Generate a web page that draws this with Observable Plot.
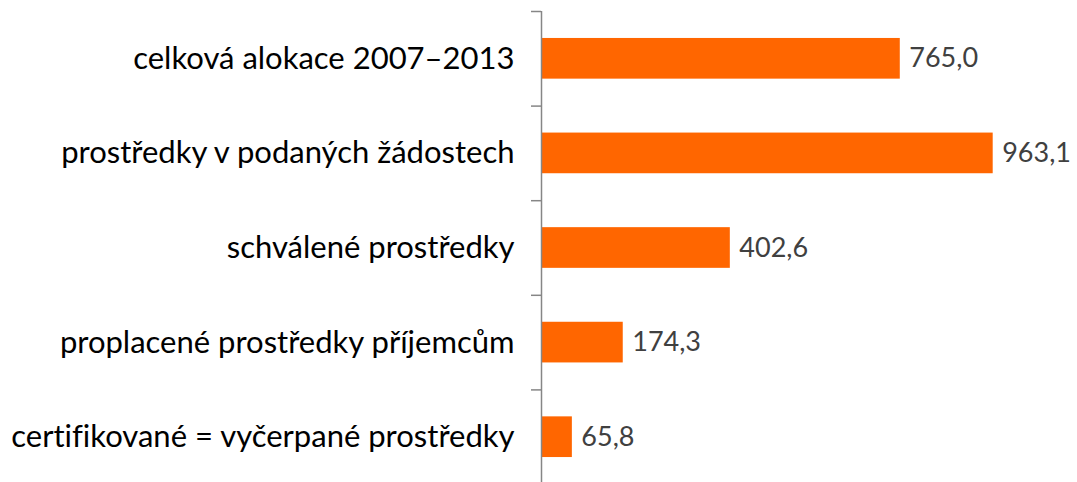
<!DOCTYPE html>
<html>
<head>
<meta charset="utf-8">
<script src="https://cdn.jsdelivr.net/npm/d3@7"></script>
<script src="https://cdn.jsdelivr.net/npm/@observablehq/plot@0.6"></script>
<style>
  html, body { margin: 0; padding: 0; background: #fff; overflow: hidden; }
  svg text { font-variant-ligatures: none; }
</style>
</head>
<body>
<div id="chart"></div>
<script>
const categories = [
  "celková alokace 2007–2013",
  "prostředky v podaných žádostech",
  "schválené prostředky",
  "proplacené prostředky příjemcům",
  "certifikované = vyčerpané prostředky"
];
const values = [765.0, 963.1, 402.6, 174.3, 65.8];
const valueLabels = ["765,0", "963,1", "402,6", "174,3", "65,8"];

const data = categories.map((c, i) => ({category: c, i, value: values[i], label: valueLabels[i]}));
const boundaries = d3.range(categories.length + 1).map(k => k - 0.5);
const half = 0.215;

const font = "Lato, 'Open Sans', sans-serif";

const chart = Plot.plot({
  width: 1077,
  height: 484,
  marginLeft: 541,
  marginRight: 67,
  marginTop: 11,
  marginBottom: 0,
  style: {fontFamily: font, background: "#fff"},
  x: {domain: [0, 1000], axis: null},
  y: {domain: [-0.5, categories.length - 0.5], reverse: true, axis: null},
  marks: [
    Plot.rectX(data, {x1: 0, x2: "value", y1: d => d.i - half, y2: d => d.i + half, fill: "#FF6600"}),
    Plot.axisY({ticks: boundaries, tickSize: 10, tickFormat: () => "", label: null, stroke: "#868686", strokeWidth: 1.5}),
    Plot.ruleX([0], {stroke: "#868686", strokeWidth: 1.5}),
    Plot.text(data, {x: 0, y: "i", text: "category", textAnchor: "end", dx: -27, fontSize: 31, fill: "#000"}),
    Plot.text(data, {x: "value", y: "i", text: "label", textAnchor: "start", dx: 9, fontSize: 27, fill: "#404040"})
  ]
});
document.getElementById("chart").appendChild(chart);
</script>
</body>
</html>
